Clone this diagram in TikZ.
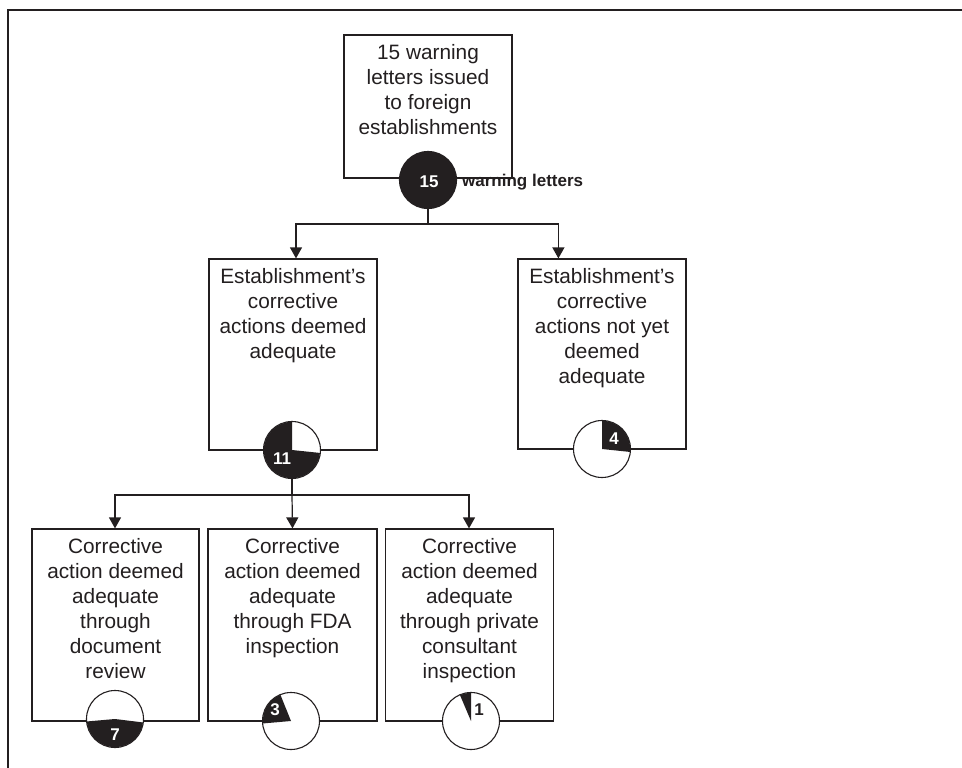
\documentclass[tikz,border=0pt]{standalone}
\usepackage{fontspec}
\setmainfont{Liberation Sans}
\usetikzlibrary{arrows.meta}
\definecolor{ink}{RGB}{35,31,32}
\begin{document}
\begin{tikzpicture}[x=1pt,y=1pt,
  box/.style={draw=ink,line width=1.2pt,fill=white,inner sep=0pt},
  txt/.style={anchor=north,align=center,font=\fontsize{20.8}{25}\selectfont,text=ink,inner sep=0pt},
  pie/.style={circle,draw=ink,line width=1.1pt,fill=white,minimum size=57pt,inner sep=0pt},
  num/.style={font=\fontsize{17}{17}\selectfont\bfseries,text=white,inner sep=0pt},
  conn/.style={draw=ink,line width=1.2pt},
  arr/.style={draw=ink,line width=1.2pt,-{Triangle[width=12pt,length=11pt]}}]
\useasboundingbox (0,0) rectangle (962,-768);
% outer frame (partly visible)
\draw[ink,line width=2pt] (8,-768) -- (8,-10) -- (962,-10);

% boxes
\node[box,minimum width=168pt,minimum height=143pt] (b0) at (428,-106.5) {};
\node[box,minimum width=168pt,minimum height=191pt] (bA) at (293,-354.5) {};
\node[box,minimum width=168pt,minimum height=190pt] (bB) at (602,-354) {};
\node[box,minimum width=167pt,minimum height=192pt] (c1) at (115.5,-625) {};
\node[box,minimum width=169pt,minimum height=192pt] (c2) at (292.5,-625) {};
\node[box,minimum width=168pt,minimum height=192pt] (c3) at (469.5,-625) {};

% box texts
\node[txt] (t0) at ([yshift=-10pt]b0.north) {15 warning\\letters issued\\to foreign\\establishments};
\node[txt] (tA) at ([yshift=-10pt]bA.north) {Establishment’s\\corrective\\actions deemed\\adequate};
\node[txt] (tB) at ([yshift=-10pt]bB.north) {Establishment’s\\corrective\\actions not yet\\deemed\\adequate};
\node[txt] (t1) at ([yshift=-10pt]c1.north) {Corrective\\action deemed\\adequate\\through\\document\\review};
\node[txt] (t2) at ([yshift=-10pt]c2.north) {Corrective\\action deemed\\adequate\\through FDA\\inspection};
\node[txt] (t3) at ([yshift=-10pt]c3.north) {Corrective\\action deemed\\adequate\\through private\\consultant\\inspection};

% pies
\node[pie,fill=ink] (p15) at (428,-180) {};
\node[pie] (p11) at (292,-450) {};
\node[pie] (p4) at (602,-449) {};
\node[pie] (p7) at (115,-719) {};
\node[pie] (p3) at (291,-721) {};
\node[pie] (p1) at (471,-721) {};
\fill[ink] (p11.center) -- ++(90:28.2pt) arc[start angle=90,end angle=354,radius=28.2pt] -- cycle;
\fill[ink] (p4.center) -- ++(-6:28.2pt) arc[start angle=-6,end angle=90,radius=28.2pt] -- cycle;
\fill[ink] (p7.center) -- ++(185:28.2pt) arc[start angle=185,end angle=353,radius=28.2pt] -- cycle;
\fill[ink] (p3.center) -- ++(112:28.2pt) arc[start angle=112,end angle=185,radius=28.2pt] -- cycle;
\fill[ink] (p1.center) -- ++(90:28.2pt) arc[start angle=90,end angle=113,radius=28.2pt] -- cycle;

% numbers
\node[num] (n15) at (429,-182) {15};
\node[anchor=west,font=\fontsize{17}{17}\selectfont\bfseries,text=ink,inner sep=0pt] (wl) at (462,-182) {warning letters};
\node[num] (n11) at (282,-459) {11};
\node[num] (n4) at (614,-439) {4};
\node[num] (n7) at (115,-735) {7};
\node[num] (n3) at (275,-710) {3};
\node[num,text=ink] (n1) at (479,-710) {1};

% connectors
\coordinate (h1) at (428,-224);
\draw[conn] (p15.south) -- (h1);
\draw[arr] (h1) -| ([xshift=3pt]bA.north);
\draw[arr] (h1) -| ([xshift=41pt]bB.north west);
\coordinate (h2) at (292,-495);
\draw[conn] (p11.south) -- (h2);
\draw[arr] (h2) -| ([xshift=-0.5pt]c1.north);
\draw[arr] (h2) -- (c2.north);
\draw[arr] (h2) -| ([xshift=-0.5pt]c3.north);
\end{tikzpicture}
\end{document}
